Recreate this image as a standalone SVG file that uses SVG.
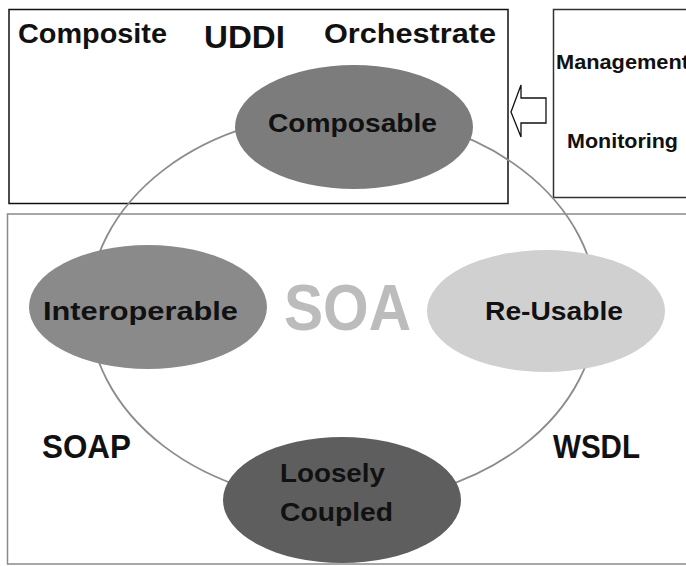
<svg xmlns="http://www.w3.org/2000/svg" width="686" height="566" viewBox="0 0 686 566">
<style>
.t{font-family:"Liberation Sans",Arial,sans-serif;font-weight:bold;fill:#111}
.node{stroke:none}
</style>
<rect width="686" height="566" fill="#fff"/>
<g id="soa-area">
<rect x="7.5" y="214" width="690" height="350" fill="#fff" stroke="#8a8a8a" stroke-width="1.5"/>
<text class="t" x="284" y="330" font-size="64" textLength="127" lengthAdjust="spacingAndGlyphs" style="fill:#bcbcbc">SOA</text>
<text class="t" x="42" y="458" font-size="33" textLength="89" lengthAdjust="spacingAndGlyphs">SOAP</text>
<text class="t" x="553" y="458" font-size="33" textLength="87" lengthAdjust="spacingAndGlyphs">WSDL</text>
</g>
<g id="composite-area">
<rect x="9" y="9.5" width="499" height="194" fill="#fff" stroke="#111" stroke-width="1.5"/>
<text class="t" x="18" y="43" font-size="27" textLength="149" lengthAdjust="spacingAndGlyphs">Composite</text>
<text class="t" x="204" y="48" font-size="32" textLength="81" lengthAdjust="spacingAndGlyphs">UDDI</text>
<text class="t" x="324" y="43" font-size="27" textLength="172" lengthAdjust="spacingAndGlyphs">Orchestrate</text>
</g>
<g id="management-area">
<rect x="553.5" y="9.5" width="140" height="188" fill="#fff" stroke="#333" stroke-width="1.5"/>
<text class="t" x="556" y="69" font-size="21" textLength="133" lengthAdjust="spacingAndGlyphs">Management</text>
<text class="t" x="567" y="148" font-size="21" textLength="111" lengthAdjust="spacingAndGlyphs">Monitoring</text>
</g>
<g id="connectors">
<ellipse cx="343" cy="308" rx="254" ry="195" fill="none" stroke="#8c8c8c" stroke-width="1.8"/>
<polygon points="546,98 521,98 521,85 511,112 521,137 521,123 546,123" fill="#fff" stroke="#111" stroke-width="1.3"/>
</g>
<g id="composable">
<ellipse class="node" cx="354" cy="127" rx="119" ry="62" fill="#7c7c7c"/>
<text class="t" x="268" y="132" font-size="26" textLength="169" lengthAdjust="spacingAndGlyphs">Composable</text>
</g>
<g id="interoperable">
<ellipse class="node" cx="148" cy="307" rx="119" ry="62" fill="#8a8a8a"/>
<text class="t" x="43" y="320" font-size="26" textLength="195" lengthAdjust="spacingAndGlyphs">Interoperable</text>
</g>
<g id="reusable">
<ellipse class="node" cx="546" cy="311" rx="119" ry="61" fill="#d0d0d0"/>
<text class="t" x="485" y="320" font-size="26" textLength="138" lengthAdjust="spacingAndGlyphs">Re-Usable</text>
</g>
<g id="loosely-coupled">
<ellipse class="node" cx="342" cy="500" rx="119" ry="63" fill="#5e5e5e"/>
<text class="t" x="280" y="482" font-size="26" textLength="105" lengthAdjust="spacingAndGlyphs">Loosely</text>
<text class="t" x="280" y="521" font-size="26" textLength="113" lengthAdjust="spacingAndGlyphs">Coupled</text>
</g>
</svg>
